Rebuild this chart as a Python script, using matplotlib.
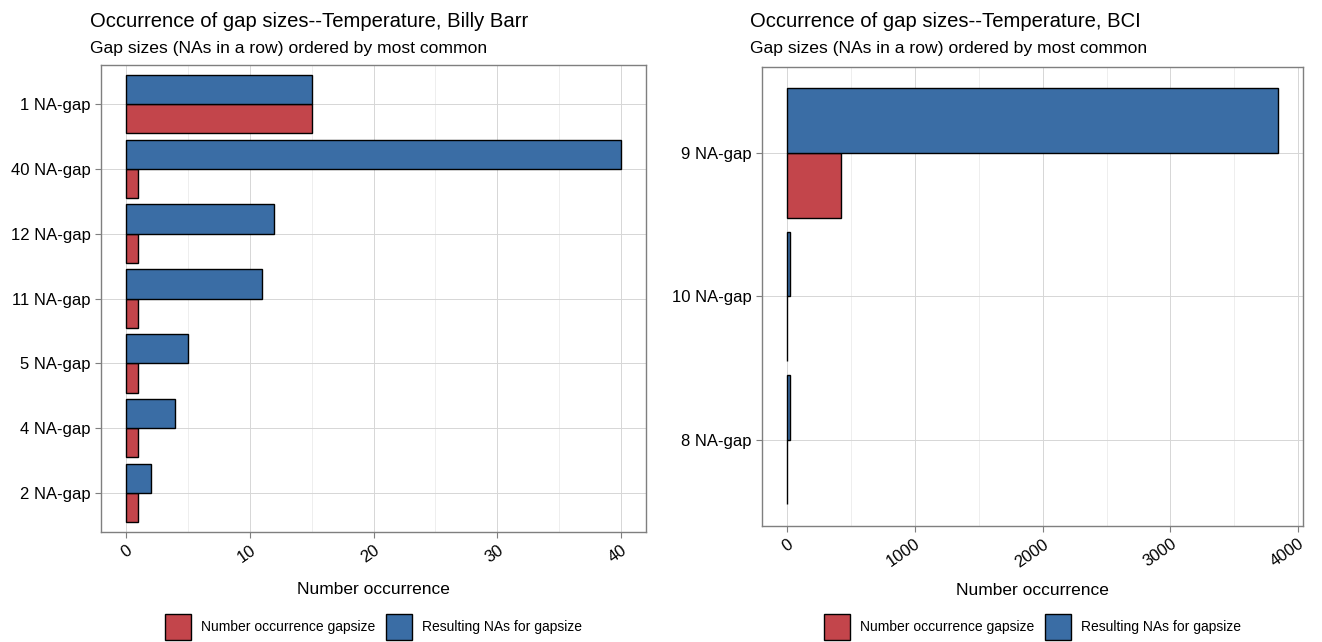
import matplotlib
matplotlib.use('Agg')
import matplotlib.pyplot as plt
import numpy as np
from matplotlib.patches import Patch
from matplotlib.ticker import MultipleLocator

plt.rcParams['font.family'] = ['Liberation Sans', 'DejaVu Sans']

# gap size summaries, most common first
barr_gaps = ['1 NA-gap', '40 NA-gap', '12 NA-gap', '11 NA-gap', '5 NA-gap', '4 NA-gap', '2 NA-gap']
barr_count = [15, 1, 1, 1, 1, 1, 1]
barr_nas = [15, 40, 12, 11, 5, 4, 2]

bci_gaps = ['9 NA-gap', '10 NA-gap', '8 NA-gap']
bci_count = [427, 3, 3]
bci_nas = [3843, 30, 24]

RED = '#C3454B'
BLUE = '#3A6DA5'
LABEL_COUNT = 'Number occurrence gapsize'
LABEL_NAS = 'Resulting NAs for gapsize'


def gap_panel(ax, gaps, counts, nas, major, minor, label_y):
    n = len(gaps)
    pos = np.arange(n)[::-1]  # first entry on top
    h = 0.45
    ax.barh(pos - h / 2, counts, height=h, color=RED, edgecolor='black', linewidth=1, zorder=3)
    ax.barh(pos + h / 2, nas, height=h, color=BLUE, edgecolor='black', linewidth=1, zorder=3)
    ax.set_yticks(pos)
    ax.set_yticklabels(gaps)
    ax.set_ylim(-0.6, n - 0.4)
    top = max(max(counts), max(nas))
    ax.set_xlim(-0.05 * top, 1.05 * top)
    ax.xaxis.set_major_locator(MultipleLocator(major))
    ax.xaxis.set_minor_locator(MultipleLocator(minor))
    ax.grid(which='major', color='#D6D6D6', linewidth=0.7, zorder=0)
    ax.grid(which='minor', axis='x', color='#EBEBEB', linewidth=0.6, zorder=0)
    ax.tick_params(axis='both', which='major', length=4, color='#7F7F7F', labelsize=12)
    ax.tick_params(axis='x', which='minor', length=0)
    for lab in ax.get_xticklabels():
        lab.set_rotation(35)
        lab.set_ha('right')
        lab.set_va('top')
        lab.set_rotation_mode('anchor')
    for s in ax.spines.values():
        s.set_color('#7F7F7F')
        s.set_linewidth(1)
    ax.set_xlabel('Number occurrence', fontsize=12.5, va='center')
    ax.xaxis.set_label_coords(0.5, label_y)

    handles = [Patch(facecolor=RED, edgecolor='black', label=LABEL_COUNT),
               Patch(facecolor=BLUE, edgecolor='black', label=LABEL_NAS)]
    box = ax.get_position()
    fig.legend(handles=handles, loc='center', bbox_to_anchor=(box.x0 + box.width / 2, 1 - 627 / 642),
               ncol=2, frameon=False, fontsize=10, handlelength=1.85, handleheight=2.5,
               columnspacing=0.75, handletextpad=0.75, borderpad=0, borderaxespad=0)


fig = plt.figure(figsize=(13.22, 6.42), dpi=100)
ax1 = fig.add_axes([0.0764, 0.1713, 0.4123, 0.7274])
ax2 = fig.add_axes([0.5764, 0.1807, 0.4092, 0.7150])

gap_panel(ax1, barr_gaps, barr_count, barr_nas, 10, 5, -0.124)
gap_panel(ax2, bci_gaps, bci_count, bci_nas, 1000, 500, -0.1416)

fig.text(90 / 1322, 1 - 27 / 642, 'Occurrence of gap sizes--Temperature, Billy Barr', fontsize=14.6, va='baseline')
fig.text(90 / 1322, 1 - 53 / 642, 'Gap sizes (NAs in a row) ordered by most common', fontsize=12.6, va='baseline')
fig.text(750 / 1322, 1 - 27 / 642, 'Occurrence of gap sizes--Temperature, BCI', fontsize=14.6, va='baseline')
fig.text(750 / 1322, 1 - 53 / 642, 'Gap sizes (NAs in a row) ordered by most common', fontsize=12.6, va='baseline')

fig.savefig('out.png', dpi=100)
